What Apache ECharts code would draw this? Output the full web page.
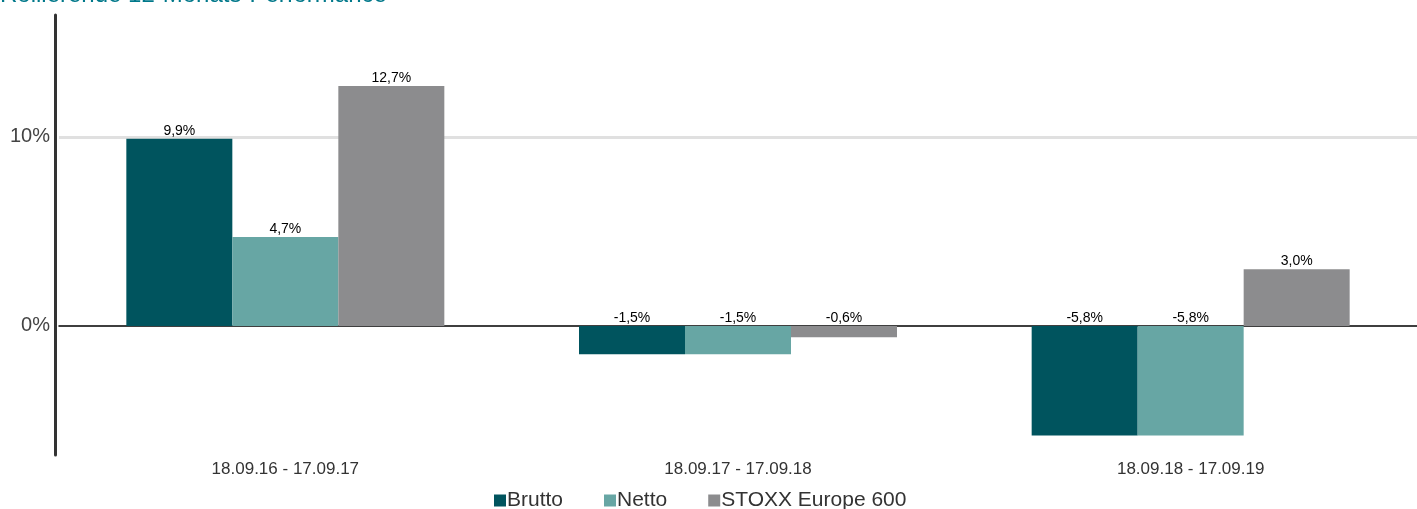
<!DOCTYPE html>
<html><head><meta charset="utf-8">
<script src="https://cdn.jsdelivr.net/npm/echarts@6/dist/echarts.min.js"></script>
<style>html,body{margin:0;padding:0;background:#fff}#c{width:1417px;height:509px}</style>
</head><body><div id="c"></div>
<script>
const categories = ['18.09.16 - 17.09.17', '18.09.17 - 17.09.18', '18.09.18 - 17.09.19'];
const brutto = [9.9, -1.5, -5.8];
const netto = [4.7, -1.5, -5.8];
const stoxx = [12.7, -0.6, 3.0];
const seriesNames = ['Brutto', 'Netto', 'STOXX Europe 600'];
const yTicks = [0, 10];
const titleText = 'Rollierende 12-Monats-Performance';

const colors = ['#00545e', '#67a6a4', '#8c8c8e'];
const FF = 'Liberation Sans, Arial, sans-serif';
const fmt = v => v.toFixed(1).replace('.', ',') + '%';
const chart = echarts.init(document.getElementById('c'));
const mk = (name, data, i) => ({
  name, type: 'bar', data, barWidth: 106, barGap: '0%',
  itemStyle: { color: colors[i] },
  label: { show: true, position: 'top', distance: 1, fontSize: 14, color: '#000',
    fontFamily: FF, formatter: p => fmt(p.value) },
  markLine: i === 0 ? { silent: true, symbol: 'none', label: { show: false },
    lineStyle: { color: '#e0e0e0', width: 3, type: 'solid' },
    data: [{ yAxis: 10 }], z: 0 } : undefined
});
chart.setOption({
  animation: false,
  title: { text: titleText, left: 0, top: -17, padding: 0,
    textStyle: { color: '#00788a', fontSize: 24, fontWeight: 'normal', fontFamily: FF } },
  legend: { top: 485, left: 489, itemWidth: 12, itemHeight: 12, itemGap: 41,
    icon: 'rect', textStyle: { fontSize: 21, color: '#333', padding: [0,0,0,-4], fontFamily: FF },
    data: seriesNames },
  grid: { left: 59, width: 1362, top: 15, bottom: 54 },
  xAxis: { type: 'category', data: categories,
    axisLine: { onZero: true, lineStyle: { color: '#000', width: 1.5 } },
    axisTick: { show: false },
    axisLabel: { fontSize: 17, color: '#333', margin: 6, fontFamily: FF,
      verticalAlign: 'top' } },
  yAxis: { type: 'value', min: -6.83, max: 16.45, offset: 4,
    axisLine: { show: true, onZero: false, lineStyle: { color: '#333', width: 3 } },
    axisTick: { show: false },
    splitLine: { show: false },
    axisLabel: { customValues: yTicks, fontSize: 20, color: '#444', margin: 5,
      fontFamily: FF, formatter: v => v + '%' } },
  series: [mk(seriesNames[0], brutto, 0), mk(seriesNames[1], netto, 1), mk(seriesNames[2], stoxx, 2)]
});
</script></body></html>
